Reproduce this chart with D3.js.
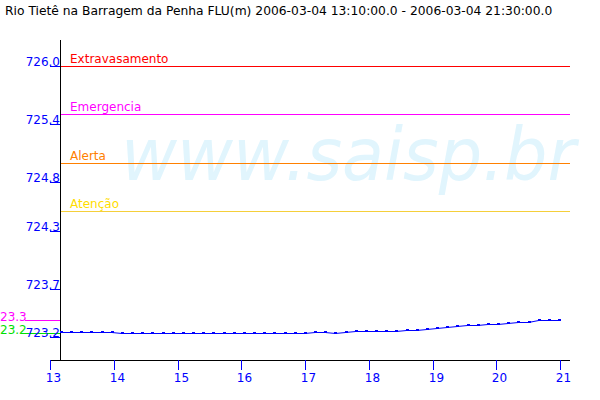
<!DOCTYPE html>
<html>
<head>
<meta charset="utf-8">
<script src="https://cdn.jsdelivr.net/npm/d3@7"></script>
<style>
  html, body { margin: 0; padding: 0; background: #fff; }
  svg { display: block; }
  text { font-family: "DejaVu Sans", sans-serif; }
</style>
</head>
<body>
<svg id="chart" width="600" height="400"></svg>
<script>
const title = "Rio Tietê na Barragem da Penha FLU(m) 2006-03-04 13:10:00.0 - 2006-03-04 21:30:00.0";
const watermark = "www.saisp.br";

const times = ["13:10","13:20","13:30","13:40","13:50","14:00","14:10","14:20","14:30","14:40",
               "14:50","15:00","15:10","15:20","15:30","15:40","15:50","16:00","16:10","16:20",
               "16:30","16:40","16:50","17:00","17:10","17:20","17:30","17:40","17:50","18:00",
               "18:10","18:20","18:30","18:40","18:50","19:00","19:10","19:20","19:30","19:40",
               "19:50","20:00","20:10","20:20","20:30","20:40","20:50","21:00","21:10","21:20"];
const levels = [723.25,723.25,723.25,723.25,723.25,723.25,723.24,723.24,723.24,723.24,
                723.24,723.24,723.24,723.24,723.24,723.24,723.24,723.24,723.24,723.24,
                723.24,723.24,723.24,723.24,723.24,723.25,723.25,723.24,723.25,723.26,
                723.26,723.26,723.26,723.26,723.27,723.27,723.28,723.29,723.30,723.31,
                723.32,723.32,723.33,723.33,723.34,723.36,723.36,723.38,723.38,723.38];

const yTicks = [723.2, 723.7, 724.3, 724.8, 725.4, 726.0];
const yTickLabels = ["723.2", "723.7", "724.3", "724.8", "725.4", "726.0"];
const xTicks = [13, 14, 15, 16, 17, 18, 19, 20, 21];

const limitNames = ["Extravasamento", "Emergencia", "Alerta", "Atenção"];
const limitValues = [726.0, 725.5, 725.0, 724.5];
const limitTextColors = ["#ff0000", "#ff00ff", "#ff8000", "#ffdd00"];
const limitLineColors = ["#ff0000", "#ff00ff", "#ff8000", "#f5cf3a"];

const svg = d3.select("#chart");

const y = d3.scaleLinear().domain([723.2, 726.0]).range([337, 66]);
const xHour = d3.scaleLinear().domain([13, 21]).range([50, 560]);
const xIdx = d3.scaleLinear().domain([0, levels.length - 1]).range([61, 559]);

// title
svg.append("text").attr("x", 5).attr("y", 15)
  .attr("font-size", 12.3).attr("fill", "#000").text(title);

// watermark
svg.append("text")
  .attr("transform", "translate(121,180) scale(1,1.07)")
  .attr("font-size", 68.5).attr("font-style", "italic")
  .attr("fill", "#e1f5fd")
  .text(watermark);

// limit lines
const lim = svg.append("g");
limitValues.forEach((v, i) => {
  const yy = Math.round(y(v)) + 0.5;
  lim.append("line").attr("x1", 60).attr("x2", 570).attr("y1", yy).attr("y2", yy)
    .attr("stroke", limitLineColors[i]).attr("stroke-width", 1).attr("shape-rendering", "crispEdges");
  lim.append("text").attr("x", 70).attr("y", yy - 4)
    .attr("font-size", 12).attr("fill", limitTextColors[i]).text(limitNames[i]);
});

// min / max markers (the reference shows only the last digits of the value at the left edge)
const vMax = d3.max(levels), vMin = d3.min(levels);
const markers = [
  {v: vMax, color: "#ff00ff"},
  {v: vMin, color: "#00e000"}
];
markers.forEach(m => {
  const yy = Math.round(y(m.v)) + 0.5;
  svg.append("line").attr("x1", 25).attr("x2", 60).attr("y1", yy).attr("y2", yy)
    .attr("stroke", m.color).attr("shape-rendering", "crispEdges");
  const full = (Math.floor(m.v * 10) / 10).toFixed(1);
  svg.append("text").attr("x", 0).attr("y", yy)
    .attr("font-size", 12).attr("fill", m.color)
    .text(full.slice(-4));
});

// y axis
const yAxisG = svg.append("g");
yAxisG.append("line").attr("x1", 60.5).attr("x2", 60.5).attr("y1", 40).attr("y2", 360)
  .attr("stroke", "#000").attr("shape-rendering", "crispEdges");
yTicks.forEach((t, i) => {
  const yy = Math.round(y(t)) + 0.5;
  yAxisG.append("line").attr("x1", 50).attr("x2", 60).attr("y1", yy).attr("y2", yy)
    .attr("stroke", "#0000ff").attr("shape-rendering", "crispEdges");
  yAxisG.append("text").attr("x", 60).attr("y", yy - 1).attr("text-anchor", "end")
    .attr("font-size", 12).attr("fill", "#0000ff").text(yTickLabels[i]);
});

// x axis
const xAxisG = svg.append("g");
xAxisG.append("line").attr("x1", 50).attr("x2", 570).attr("y1", 360.5).attr("y2", 360.5)
  .attr("stroke", "#000").attr("shape-rendering", "crispEdges");
xTicks.forEach(t => {
  const xx = Math.round(xHour(t)) + 0.5;
  xAxisG.append("line").attr("x1", xx).attr("x2", xx).attr("y1", 360).attr("y2", 370)
    .attr("stroke", "#0000ff").attr("shape-rendering", "crispEdges");
  xAxisG.append("text").attr("x", xx + 3).attr("y", 382).attr("text-anchor", "middle")
    .attr("font-size", 12).attr("fill", "#0000ff").text(t);
});

// data line
const line = d3.line().x((d, i) => xIdx(i)).y(d => Math.round(y(d)) + 0.5);
svg.append("path").datum(levels).attr("d", line)
  .attr("fill", "none").attr("stroke", "#0000ff").attr("stroke-width", 1.2);
svg.append("g").selectAll("rect").data(levels).join("rect")
  .attr("x", (d, i) => Math.round(xIdx(i)) - 1)
  .attr("y", d => Math.round(y(d)) - 1)
  .attr("width", 3).attr("height", 2)
  .attr("fill", "#0000ff").attr("data-time", (d, i) => times[i]);
</script>
</body>
</html>
